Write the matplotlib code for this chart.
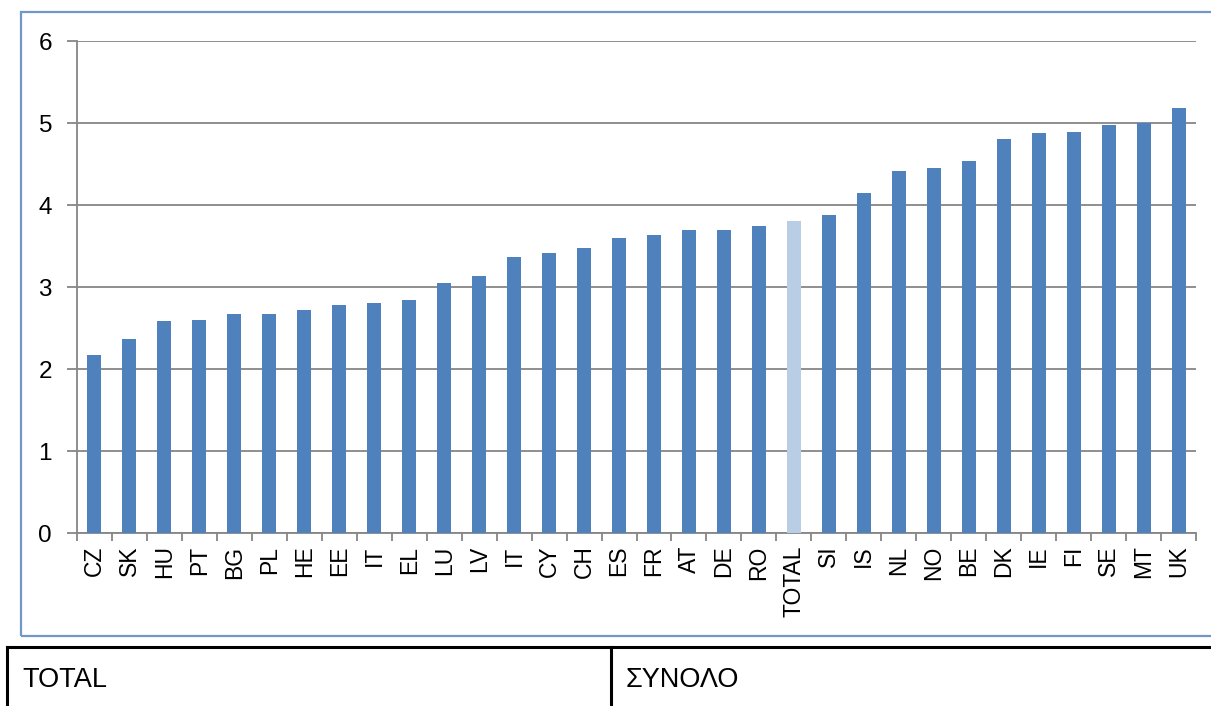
import matplotlib.pyplot as plt
from matplotlib.patches import Rectangle
from matplotlib.lines import Line2D
import numpy as np

plt.rcParams['font.family'] = ['Liberation Sans', 'DejaVu Sans']

# Χώρες και τιμές (διαβασμένες από το διάγραμμα)
countries = ['CZ', 'SK', 'HU', 'PT', 'BG', 'PL', 'HE', 'EE', 'IT', 'EL',
             'LU', 'LV', 'IT', 'CY', 'CH', 'ES', 'FR', 'AT', 'DE', 'RO',
             'TOTAL', 'SI', 'IS', 'NL', 'NO', 'BE', 'DK', 'IE', 'FI', 'SE',
             'MT', 'UK']
values = [2.17, 2.37, 2.58, 2.60, 2.67, 2.67, 2.72, 2.78, 2.81, 2.84,
          3.05, 3.13, 3.36, 3.41, 3.48, 3.60, 3.63, 3.69, 3.70, 3.75,
          3.80, 3.88, 4.15, 4.42, 4.45, 4.54, 4.81, 4.88, 4.89, 4.98,
          5.00, 5.18]
yticks = [0, 1, 2, 3, 4, 5, 6]
table_left = 'TOTAL'
table_right = 'ΣΥΝΟΛΟ'

W, H = 1211, 706
fig = plt.figure(figsize=(W / 100, H / 100), dpi=100)

grey = '#868686'
colors = ['#B9CDE5' if c == 'TOTAL' else '#4F81BD' for c in countries]

ax = fig.add_axes([77 / W, 1 - 533 / H, (1196 - 77) / W, (533 - 41) / H])
x = np.arange(len(countries))
ax.bar(x, values, width=0.4, color=colors, zorder=3)

ax.set_xlim(-0.5, len(countries) - 0.5)
ax.set_ylim(0, 6)
ax.set_yticks(yticks)
ax.set_yticklabels([str(t) for t in yticks], fontsize=17.5)
ax.grid(axis='y', color=grey, linewidth=1.3, zorder=0)

# x ticks between categories, labels at centres
ax.set_xticks(np.arange(len(countries) + 1) - 0.5)
ax.set_xticklabels([])
ax.set_xticks(x, minor=True)
ax.set_xticklabels(countries, minor=True, rotation=90, fontsize=16.5)
ax.tick_params(axis='x', which='major', length=6, width=1.3, color=grey)
ax.tick_params(axis='x', which='minor', length=0, pad=9)
ax.tick_params(axis='y', length=7, width=1.3, color=grey, pad=11)

for s in ['top', 'right']:
    ax.spines[s].set_visible(False)
for s in ['left', 'bottom']:
    ax.spines[s].set_color(grey)
    ax.spines[s].set_linewidth(1.3)

# chart frame
fig.patches.append(Rectangle((21 / W, 1 - 636 / H), (1230 - 21) / W, (636 - 12) / H,
                             transform=fig.transFigure, fill=False,
                             edgecolor='#7197C9', linewidth=1.6))

# table under the chart
lw = 2.2
fig.lines.append(Line2D([7 / W, 1.02], [1 - 647 / H] * 2, transform=fig.transFigure,
                        color='black', linewidth=lw))
fig.lines.append(Line2D([7 / W, 7 / W], [1 - 647 / H, -0.02], transform=fig.transFigure,
                        color='black', linewidth=lw))
fig.lines.append(Line2D([611 / W, 611 / W], [1 - 647 / H, -0.02], transform=fig.transFigure,
                        color='black', linewidth=lw))
fig.text(22 / W, 1 - 680 / H, table_left, fontsize=19.5, va='center', ha='left')
fig.text(626 / W, 1 - 680 / H, table_right, fontsize=19.5, va='center', ha='left')

fig.savefig('out.png', dpi=100)
